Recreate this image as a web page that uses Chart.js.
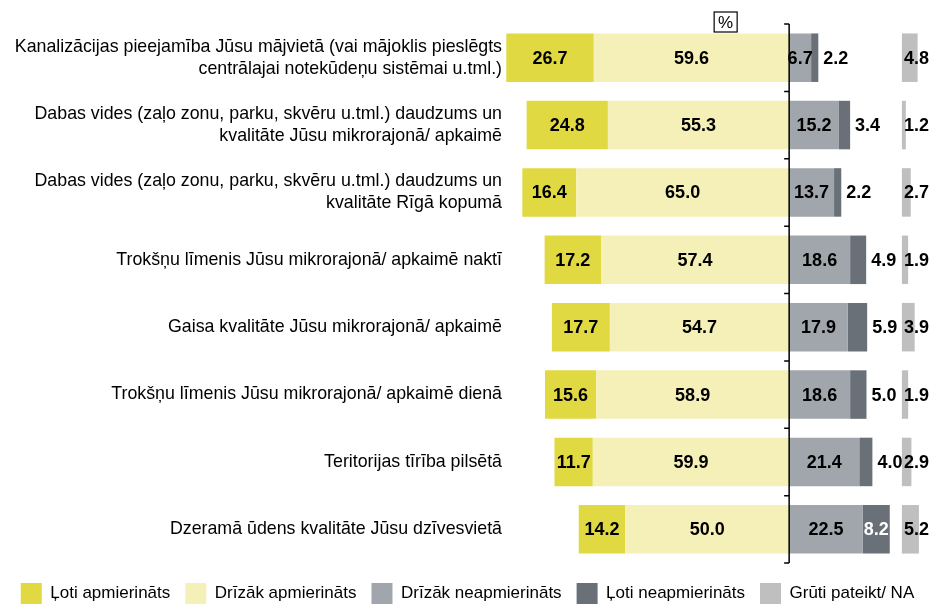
<!DOCTYPE html>
<html>
<head>
<meta charset="utf-8">
<script src="https://cdn.jsdelivr.net/npm/chart.js@4.4.1/dist/chart.umd.min.js"></script>
<style>
  html, body { margin: 0; padding: 0; background: #fff; }
  #wrap { width: 935px; height: 604px; }
</style>
</head>
<body>
<div id="wrap"><canvas id="grafiks"></canvas></div>
<script>
const kategorijas = [
    ['Kanalizācijas pieejamība Jūsu mājvietā (vai mājoklis pieslēgts', 'centrālajai notekūdeņu sistēmai u.tml.)'],
    ['Dabas vides (zaļo zonu, parku, skvēru u.tml.) daudzums un', 'kvalitāte Jūsu mikrorajonā/ apkaimē'],
    ['Dabas vides (zaļo zonu, parku, skvēru u.tml.) daudzums un', 'kvalitāte Rīgā kopumā'],
    'Trokšņu līmenis Jūsu mikrorajonā/ apkaimē naktī',
    'Gaisa kvalitāte Jūsu mikrorajonā/ apkaimē',
    'Trokšņu līmenis Jūsu mikrorajonā/ apkaimē dienā',
    'Teritorijas tīrība pilsētā',
    'Dzeramā ūdens kvalitāte Jūsu dzīvesvietā'
];
const lotiApmierinats = [26.7, 24.8, 16.4, 17.2, 17.7, 15.6, 11.7, 14.2];
const drizakApmierinats = [59.6, 55.3, 65.0, 57.4, 54.7, 58.9, 59.9, 50.0];
const drizakNeapmierinats = [6.7, 15.2, 13.7, 18.6, 17.9, 18.6, 21.4, 22.5];
const lotiNeapmierinats = [2.2, 3.4, 2.2, 4.9, 5.9, 5.0, 4.0, 8.2];
const grutiPateikt = [4.8, 1.2, 2.7, 1.9, 3.9, 1.9, 2.9, 5.2];

// kur sākas "Grūti pateikt" stabiņi (% vienībās pa labi no nulles)
const NA_SAKUMS = 34.4;
// leģendas secība pēc datu kopas indeksa
const legendasSeciba = [1, 0, 2, 3, 4];

const fonts = '"Liberation Sans", Arial, sans-serif';

const vertibuEtiketes = {
    id: 'vertibuEtiketes',
    afterDatasetsDraw(chart) {
        const ctx = chart.ctx;
        ctx.save();
        ctx.font = 'bold 18px ' + fonts;
        ctx.textBaseline = 'middle';
        chart.data.datasets.forEach((ds, di) => {
            const meta = chart.getDatasetMeta(di);
            meta.data.forEach((bar, i) => {
                const teksts = ds.vertibas[i].toFixed(1);
                const sak = Math.min(bar.x, bar.base);
                const beig = Math.max(bar.x, bar.base);
                const tw = ctx.measureText(teksts).width;
                let x = (sak + beig) / 2;
                let align = 'center';
                let krasa = '#000';
                if (ds.etikete === 'sanos') {
                    if (beig - sak >= tw) {
                        krasa = '#fff';
                    } else {
                        x = beig + 5;
                        align = 'left';
                    }
                } else if (ds.etikete === 'sakums') {
                    x = sak + 2;
                    align = 'left';
                }
                ctx.fillStyle = krasa;
                ctx.textAlign = align;
                ctx.fillText(teksts, x, bar.y + 1);
            });
        });

        // centra līnija ar iedaļām
        const area = chart.chartArea;
        const x0 = chart.scales.x.getPixelForValue(0);
        const n = kategorijas.length;
        ctx.strokeStyle = '#000';
        ctx.lineWidth = 1.5;
        ctx.beginPath();
        ctx.moveTo(x0, area.top);
        ctx.lineTo(x0, area.bottom);
        for (let i = 0; i <= n; i++) {
            const yy = area.top + i * (area.bottom - area.top) / n;
            ctx.moveTo(x0 - 5, yy);
            ctx.lineTo(x0, yy);
        }
        ctx.stroke();

        // "%" rāmītis
        ctx.lineWidth = 1.2;
        ctx.strokeRect(x0 - 75, area.top - 12, 23, 20);
        ctx.font = '17px ' + fonts;
        ctx.fillStyle = '#000';
        ctx.textAlign = 'center';
        ctx.fillText('%', x0 - 63.5, area.top - 1);
        ctx.restore();
    }
};

new Chart(document.getElementById('grafiks'), {
    type: 'bar',
    data: {
        labels: kategorijas,
        datasets: [
            {
                label: 'Drīzāk apmierināts',
                data: drizakApmierinats.map(v => -v),
                vertibas: drizakApmierinats,
                backgroundColor: '#F5F0B8'
            },
            {
                label: 'Ļoti apmierināts',
                data: lotiApmierinats.map(v => -v),
                vertibas: lotiApmierinats,
                backgroundColor: '#E0D942'
            },
            {
                label: 'Drīzāk neapmierināts',
                data: drizakNeapmierinats,
                vertibas: drizakNeapmierinats,
                backgroundColor: '#A1A6AC'
            },
            {
                label: 'Ļoti neapmierināts',
                data: lotiNeapmierinats,
                vertibas: lotiNeapmierinats,
                etikete: 'sanos',
                backgroundColor: '#6A7078'
            },
            {
                label: 'Grūti pateikt/ NA',
                data: grutiPateikt.map(v => [NA_SAKUMS, NA_SAKUMS + v]),
                vertibas: grutiPateikt,
                etikete: 'sakums',
                stack: 'na',
                grouped: false,
                backgroundColor: '#BFBFBF'
            }
        ]
    },
    options: {
        indexAxis: 'y',
        responsive: true,
        maintainAspectRatio: false,
        animation: false,
        categoryPercentage: 1,
        barPercentage: 0.72,
        layout: { padding: { top: 24, left: 0, right: 0, bottom: 0 } },
        scales: {
            x: {
                stacked: true,
                display: false,
                min: -87,
                max: 44.5
            },
            y: {
                stacked: true,
                grid: { display: false, drawTicks: false },
                border: { display: false },
                afterFit(scale) { scale.width = 504; },
                ticks: {
                    color: '#000',
                    padding: 2,
                    font: { family: fonts, size: 17.8, lineHeight: 1.24 }
                }
            }
        },
        plugins: {
            tooltip: { enabled: false },
            legend: {
                position: 'bottom',
                maxHeight: 41,
                title: {
                    display: true,
                    text: ' ',
                    padding: 0,
                    font: { size: 4, lineHeight: 1.25 }
                },
                labels: {
                    color: '#000',
                    boxWidth: 21,
                    boxHeight: 21,
                    padding: 15,
                    font: { family: fonts, size: 17 },
                    sort: (a, b) => legendasSeciba[a.datasetIndex] - legendasSeciba[b.datasetIndex]
                }
            }
        }
    },
    plugins: [vertibuEtiketes]
});
</script>
</body>
</html>
